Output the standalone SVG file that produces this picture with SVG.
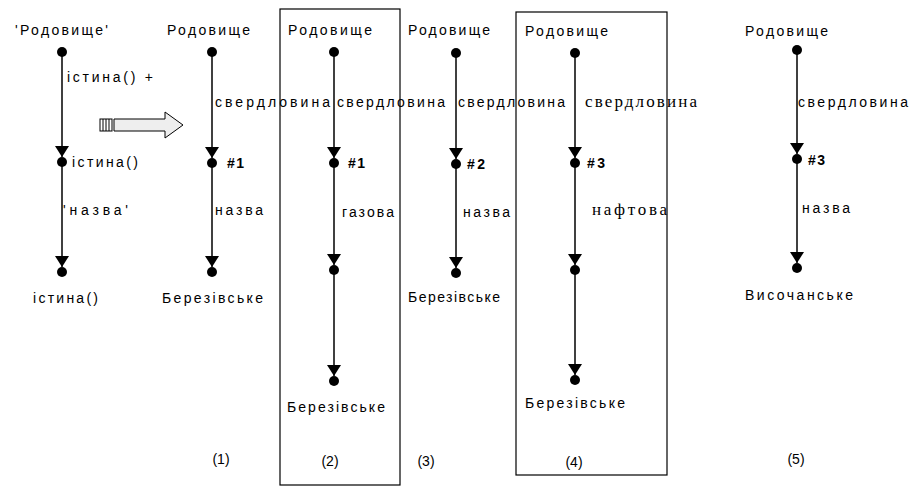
<svg xmlns="http://www.w3.org/2000/svg" width="909" height="486" viewBox="0 0 909 486">
<style>
text{font-family:"Liberation Sans",Arial,sans-serif;font-size:14px;fill:#000}
.m{font-family:"Liberation Serif","Times New Roman",serif;font-size:17px}
.e{stroke:#000;stroke-width:1.5;fill:none;marker-end:url(#ah)}
.d{fill:#000}
.box{fill:none;stroke:#000;stroke-width:1.2}
</style>
<defs>
<marker id="ah" markerUnits="userSpaceOnUse" markerWidth="12" markerHeight="14" refX="11" refY="7" orient="auto">
<path d="M0,0 L11,7 L0,14 z" fill="#000"/>
</marker>
</defs>
<rect fill="#fff" width="909" height="486"/>
<rect class="box" x="280" y="9" width="120" height="476"/>
<rect class="box" x="516" y="12" width="151" height="463"/>
<g id="bigarrow">
<rect x="100" y="119" width="12" height="12" fill="#fff" stroke="#000"/>
<path d="M103,119V131M106,119V131M109,119V131" stroke="#000"/>
<polygon points="114,119 165,119 165,112 183,125 165,138 165,131 114,131" fill="#eee" stroke="#000"/>
</g>
<g id="connectors">
<line class="e" x1="62" y1="52" x2="62" y2="157"/>
<line class="e" x1="62" y1="162" x2="62" y2="267"/>
<line class="e" x1="212" y1="52" x2="212" y2="158"/>
<line class="e" x1="212" y1="163" x2="212" y2="267"/>
<line class="e" x1="334" y1="52" x2="334" y2="158"/>
<line class="e" x1="334" y1="163" x2="334" y2="265"/>
<line class="e" x1="334" y1="270" x2="334" y2="376"/>
<line class="e" x1="456" y1="53" x2="456" y2="159"/>
<line class="e" x1="456" y1="164" x2="456" y2="268"/>
<line class="e" x1="575" y1="53" x2="575" y2="158"/>
<line class="e" x1="575" y1="163" x2="575" y2="265"/>
<line class="e" x1="575" y1="270" x2="575" y2="375"/>
<line class="e" x1="797" y1="50" x2="797" y2="154"/>
<line class="e" x1="797" y1="159" x2="797" y2="263"/>
</g>
<g id="edgelabels">
<text x="67" y="82" textLength="86">істина() +</text>
<text x="63" y="215" textLength="65">'назва'</text>
<text x="215" y="107" textLength="115">свердловина</text>
<text x="215" y="215" textLength="48">назва</text>
<text x="337" y="107" textLength="108">свердловина</text>
<text x="342" y="217" textLength="52">газова</text>
<text x="458" y="107" textLength="107">свердловина</text>
<text x="463" y="217" textLength="47">назва</text>
<text class="m" x="585" y="107" textLength="112">свердловина</text>
<text class="m" x="592" y="215" textLength="75">нафтова</text>
<text x="798" y="107" textLength="110">свердловина</text>
<text x="802" y="213" textLength="48">назва</text>
</g>
<g id="c0n1"><circle class="d" cx="62" cy="52" r="5"/><text x="15" y="35" textLength="93">'Родовище'</text></g>
<g id="c0n2"><circle class="d" cx="62" cy="162" r="5"/><text x="72" y="167" textLength="66">істина()</text></g>
<g id="c0n3"><circle class="d" cx="62" cy="272" r="5"/><text x="33" y="303" textLength="65">істина()</text></g>
<g id="c1n1"><circle class="d" cx="212" cy="52" r="5"/><text x="167" y="35" textLength="83">Родовище</text></g>
<g id="c1n2"><circle class="d" cx="212" cy="163" r="5"/><text x="227" y="168" font-weight="bold" textLength="17">#1</text></g>
<g id="c1n3"><circle class="d" cx="212" cy="272" r="5"/><text x="162" y="303" textLength="101">Березівське</text></g>
<g id="c2n1"><circle class="d" cx="334" cy="52" r="5"/><text x="288" y="35" textLength="84">Родовище</text></g>
<g id="c2n2"><circle class="d" cx="334" cy="163" r="5"/><text x="348" y="168" font-weight="bold" textLength="17">#1</text></g>
<g id="c2n3"><circle class="d" cx="334" cy="270" r="5"/></g>
<g id="c2n4"><circle class="d" cx="334" cy="381" r="5"/><text x="287" y="412" textLength="98">Березівське</text></g>
<g id="c3n1"><circle class="d" cx="456" cy="53" r="5"/><text x="408" y="35" textLength="82">Родовище</text></g>
<g id="c3n2"><circle class="d" cx="456" cy="164" r="5"/><text x="467" y="169" font-weight="bold" textLength="18">#2</text></g>
<g id="c3n3"><circle class="d" cx="456" cy="273" r="5"/><text x="408" y="302" textLength="92">Березівське</text></g>
<g id="c4n1"><circle class="d" cx="575" cy="53" r="5"/><text x="525" y="36" textLength="83">Родовище</text></g>
<g id="c4n2"><circle class="d" cx="575" cy="163" r="5"/><text x="587" y="168" font-weight="bold" textLength="18">#3</text></g>
<g id="c4n3"><circle class="d" cx="575" cy="270" r="5"/></g>
<g id="c4n4"><circle class="d" cx="575" cy="380" r="5"/><text x="525" y="408" textLength="100">Березівське</text></g>
<g id="c5n1"><circle class="d" cx="797" cy="50" r="5"/><text x="745" y="36" textLength="83">Родовище</text></g>
<g id="c5n2"><circle class="d" cx="797" cy="159" r="5"/><text x="808" y="165" font-weight="bold" textLength="17">#3</text></g>
<g id="c5n3"><circle class="d" cx="797" cy="268" r="5"/><text x="745" y="300" textLength="108">Височанське</text></g>
<g id="captions">
<text x="221" y="464" text-anchor="middle">(1)</text>
<text x="330" y="466" text-anchor="middle">(2)</text>
<text x="426" y="466" text-anchor="middle">(3)</text>
<text x="574" y="467" text-anchor="middle">(4)</text>
<text x="796" y="464" text-anchor="middle">(5)</text>
</g>
</svg>
